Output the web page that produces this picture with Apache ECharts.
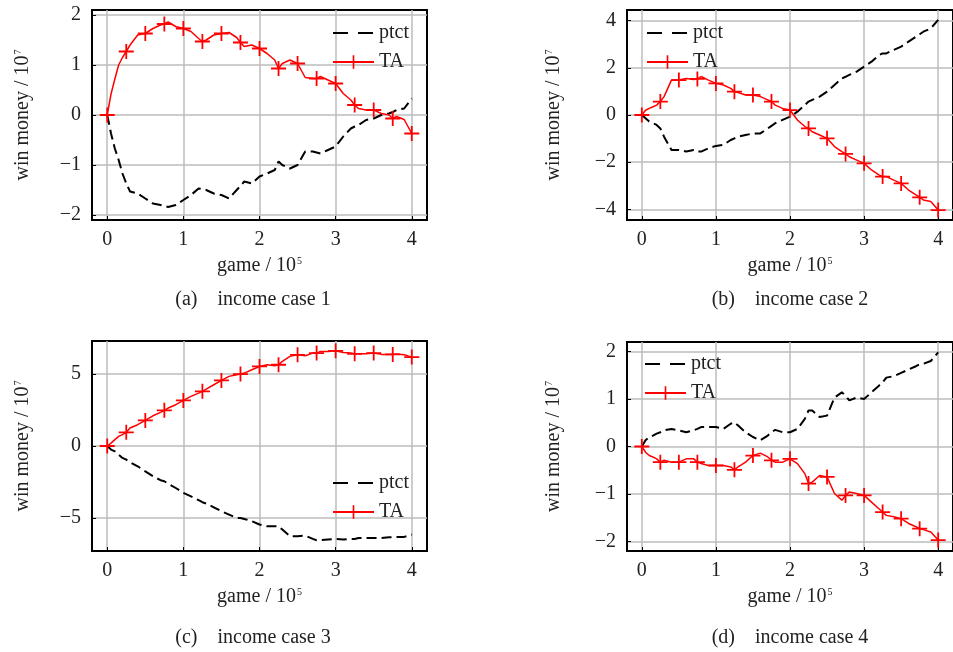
<!DOCTYPE html>
<html>
<head>
<meta charset="utf-8">
<script src="https://cdn.jsdelivr.net/npm/echarts@6/dist/echarts.min.js"></script>
<style>
  html, body { margin: 0; padding: 0; background: #fff; }
  #chart { width: 953px; height: 652px; }
</style>
</head>
<body>
<div id="chart"></div>
<script>
// game / 10^5 sample positions shared by all panels
const GAME = [0, 0.05, 0.1, 0.15, 0.2, 0.25, 0.3, 0.4, 0.5, 0.6, 0.7, 0.75, 0.8, 0.9,
  1, 1.1, 1.2, 1.25, 1.3, 1.4, 1.5, 1.6, 1.7, 1.75, 1.8, 1.9,
  2, 2.1, 2.2, 2.25, 2.3, 2.4, 2.5, 2.6, 2.7, 2.75, 2.8, 2.9,
  3, 3.1, 3.2, 3.25, 3.3, 3.4, 3.5, 3.6, 3.7, 3.75, 3.8, 3.9, 4]
const X_TICKS = [0, 1, 2, 3, 4]

// income case 1
const TA_1 = [0, 0.42, 0.72, 1.0, 1.15, 1.27, 1.4, 1.6, 1.63, 1.73, 1.8, 1.82, 1.86, 1.77,
  1.73, 1.67, 1.53, 1.47, 1.5, 1.6, 1.63, 1.65, 1.55, 1.45, 1.37, 1.4,
  1.33, 1.23, 1.1, 0.93, 1.03, 1.1, 1.03, 0.75, 0.73, 0.73, 0.77, 0.7,
  0.63, 0.43, 0.3, 0.2, 0.13, 0.1, 0.1, 0.03, 0.0, -0.07, -0.03, -0.09, -0.37]
const PTCT_1 = [0, -0.37, -0.67, -0.9, -1.17, -1.37, -1.53, -1.57, -1.67, -1.77, -1.8, -1.82, -1.84, -1.8,
  -1.7, -1.6, -1.47, -1.48, -1.5, -1.57, -1.6, -1.67, -1.5, -1.42, -1.33, -1.37,
  -1.23, -1.17, -1.1, -0.93, -1.0, -1.07, -1.0, -0.73, -0.73, -0.75, -0.77, -0.7,
  -0.63, -0.43, -0.27, -0.23, -0.2, -0.1, -0.07, 0, 0.03, 0.06, 0.1, 0.13, 0.33]

// income case 2
const TA_2 = [0, 0.2, 0.28, 0.35, 0.42, 0.57, 0.78, 1.48, 1.48, 1.55, 1.5, 1.53, 1.63, 1.48,
  1.34, 1.27, 1.13, 0.99, 0.95, 0.85, 0.85, 0.78, 0.64, 0.57, 0.42, 0.28,
  0.21, -0.21, -0.49, -0.57, -0.71, -0.85, -0.99, -1.34, -1.55, -1.65, -1.77, -1.91,
  -2.05, -2.33, -2.54, -2.61, -2.61, -2.76, -2.9, -3.18, -3.39, -3.49, -3.6, -3.67, -4.03]
const PTCT_2 = [0, -0.14, -0.28, -0.35, -0.42, -0.57, -0.92, -1.48, -1.48, -1.55, -1.48, -1.55, -1.55, -1.41,
  -1.31, -1.27, -1.06, -0.99, -0.92, -0.85, -0.78, -0.78, -0.57, -0.46, -0.35, -0.21,
  -0.07, 0.14, 0.42, 0.57, 0.64, 0.78, 0.99, 1.27, 1.55, 1.62, 1.7, 1.84,
  2.05, 2.26, 2.54, 2.61, 2.61, 2.76, 2.9, 3.11, 3.32, 3.42, 3.53, 3.67, 4.03]

// income case 3
const TA_3 = [0, 0.2, 0.44, 0.67, 0.79, 0.95, 1.25, 1.48, 1.78, 2.1, 2.34, 2.48, 2.64, 2.87,
  3.17, 3.45, 3.68, 3.8, 3.96, 4.26, 4.56, 4.84, 4.95, 5.0, 5.07, 5.3,
  5.53, 5.65, 5.58, 5.65, 5.88, 6.23, 6.34, 6.27, 6.46, 6.46, 6.57, 6.57,
  6.62, 6.5, 6.46, 6.41, 6.41, 6.41, 6.46, 6.37, 6.37, 6.37, 6.39, 6.34, 6.18]
const PTCT_3 = [0, -0.25, -0.37, -0.6, -0.83, -0.95, -1.13, -1.41, -1.76, -2.1, -2.38, -2.45, -2.62, -2.92,
  -3.26, -3.5, -3.77, -3.91, -4.0, -4.26, -4.54, -4.77, -5.0, -5.0, -5.07, -5.23,
  -5.46, -5.58, -5.58, -5.58, -5.81, -6.27, -6.27, -6.23, -6.46, -6.55, -6.55, -6.5,
  -6.46, -6.5, -6.46, -6.46, -6.39, -6.39, -6.39, -6.39, -6.34, -6.34, -6.32, -6.32, -6.16]

// income case 4
const TA_4 = [0, -0.12, -0.19, -0.22, -0.26, -0.33, -0.29, -0.33, -0.33, -0.26, -0.26, -0.33, -0.36, -0.4,
  -0.4, -0.4, -0.43, -0.49, -0.43, -0.33, -0.19, -0.14, -0.22, -0.29, -0.33, -0.33,
  -0.26, -0.36, -0.57, -0.78, -0.75, -0.61, -0.64, -0.99, -1.13, -1.03, -0.96, -0.99,
  -1.03, -1.17, -1.31, -1.38, -1.45, -1.48, -1.52, -1.62, -1.69, -1.73, -1.75, -1.8, -1.97]
const PTCT_4 = [0, 0.13, 0.2, 0.23, 0.27, 0.3, 0.34, 0.37, 0.34, 0.3, 0.34, 0.37, 0.41, 0.41,
  0.41, 0.37, 0.48, 0.51, 0.44, 0.3, 0.2, 0.13, 0.23, 0.3, 0.35, 0.3,
  0.3, 0.37, 0.58, 0.76, 0.76, 0.62, 0.65, 1.03, 1.14, 1.07, 0.97, 1.03,
  1.0, 1.14, 1.28, 1.35, 1.45, 1.48, 1.55, 1.62, 1.69, 1.73, 1.74, 1.8, 1.98]

const Y_TICKS = [[-2, -1, 0, 1, 2], [-4, -2, 0, 2, 4], [-5, 0, 5], [-2, -1, 0, 1, 2]]
const Y_RANGE = [[-2.1, 2.1], [-4.45, 4.45], [-7.3, 7.3], [-2.2, 2.2]]
const CAPTIONS = ['(a)    income case 1', '(b)    income case 2', '(c)    income case 3', '(d)    income case 4']

const FONT = '"Liberation Serif", "Times New Roman", serif'
const TEXT_COLOR = '#222'
const PLUS = 'path://M4.4,0 H5.6 V4.4 H10 V5.6 H5.6 V10 H4.4 V5.6 H0 V4.4 H4.4 Z'

const grids = [
  { left: 92, top: 10, width: 335, height: 210 },
  { left: 627, top: 10, width: 334, height: 210 },
  { left: 92, top: 341, width: 335, height: 210 },
  { left: 627, top: 342, width: 334, height: 209 }
]
const legends = [
  { left: 332, top: 23 },
  { left: 646, top: 23 },
  { left: 332, top: 473 },
  { left: 644, top: 354 }
]
const captionPos = [[253, 300], [790, 300], [253, 638], [790, 638]]

const minus = (v) => String(v).replace('-', '\u2212')
const isQuarter = (x) => Math.abs(x * 4 - Math.round(x * 4)) < 1e-6

const seriesData = [[TA_1, PTCT_1], [TA_2, PTCT_2], [TA_3, PTCT_3], [TA_4, PTCT_4]]

const rich = {
  b: { fontFamily: FONT, fontSize: 20, color: TEXT_COLOR },
  s: { fontFamily: FONT, fontSize: 10, color: TEXT_COLOR, verticalAlign: 'top', padding: [0, 0, 9, 1] }
}

const option = {
  backgroundColor: '#fff',
  animation: false,
  grid: grids.map(g => Object.assign({
    show: true, borderColor: '#000', borderWidth: 2, containLabel: false
  }, g)),
  xAxis: grids.map((g, i) => ({
    gridIndex: i,
    type: 'value',
    min: -0.2,
    max: 4.2,
    name: '{b|game / 10}{s|5}',
    nameLocation: 'middle',
    nameGap: 36,
    nameTextStyle: { rich },
    axisLine: { onZero: false, lineStyle: { color: '#000', width: 2 } },
    axisTick: { inside: true, length: 4, customValues: X_TICKS, lineStyle: { color: '#000' } },
    axisLabel: {
      customValues: X_TICKS, margin: 10,
      fontFamily: FONT, fontSize: 20, color: TEXT_COLOR
    },
    splitLine: { show: true, lineStyle: { color: '#bdbdbd', width: 1.5 } }
  })),
  yAxis: grids.map((g, i) => ({
    gridIndex: i,
    type: 'value',
    min: Y_RANGE[i][0],
    max: Y_RANGE[i][1],
    name: '{b|win money / 10}{s|7}',
    nameLocation: 'middle',
    nameGap: i % 2 === 0 ? 59 : 63,
    nameTextStyle: { rich },
    axisLine: { onZero: false, lineStyle: { color: '#000', width: 2 } },
    axisTick: { inside: true, length: 4, customValues: Y_TICKS[i], lineStyle: { color: '#000' } },
    axisLabel: {
      customValues: Y_TICKS[i], margin: 11,
      fontFamily: FONT, fontSize: 20, color: TEXT_COLOR,
      formatter: minus
    },
    splitLine: { show: true, lineStyle: { color: '#bdbdbd', width: 1.5 } }
  })),
  legend: legends.map(l => ({
    left: l.left,
    top: l.top,
    orient: 'vertical',
    padding: 0,
    itemWidth: 41,
    itemHeight: 17,
    itemGap: 9,
    selectedMode: false,
    textStyle: { fontFamily: FONT, fontSize: 20, color: TEXT_COLOR },
    data: [
      { name: 'ptct', itemStyle: { opacity: 0 }, lineStyle: { type: [15, 10] } },
      'TA'
    ]
  })),
  series: [],
  graphic: CAPTIONS.map((t, i) => ({
    type: 'text',
    x: captionPos[i][0],
    y: captionPos[i][1],
    style: {
      text: t, font: '20px ' + FONT, fill: TEXT_COLOR,
      textAlign: 'center', textVerticalAlign: 'middle'
    }
  }))
}

seriesData.forEach(([ta, ptct], i) => {
  option.series.push({
    name: 'ptct',
    type: 'line',
    xAxisIndex: i,
    yAxisIndex: i,
    data: GAME.map((x, k) => [x, ptct[k]]),
    symbol: 'none',
    lineStyle: { color: '#000', width: 2, type: [10, 5] },
    itemStyle: { color: '#000' },
    z: 3
  })
  option.series.push({
    name: 'TA',
    type: 'line',
    xAxisIndex: i,
    yAxisIndex: i,
    data: GAME.map((x, k) => [x, ta[k]]),
    symbol: PLUS,
    symbolSize: (v) => isQuarter(v[0]) ? 15 : 0,
    showAllSymbol: true,
    lineStyle: { color: '#ff0000', width: 1.5 },
    itemStyle: { color: '#ff0000' },
    z: 4
  })
})

const chart = echarts.init(document.getElementById('chart'))
chart.setOption(option)
</script>
</body>
</html>
